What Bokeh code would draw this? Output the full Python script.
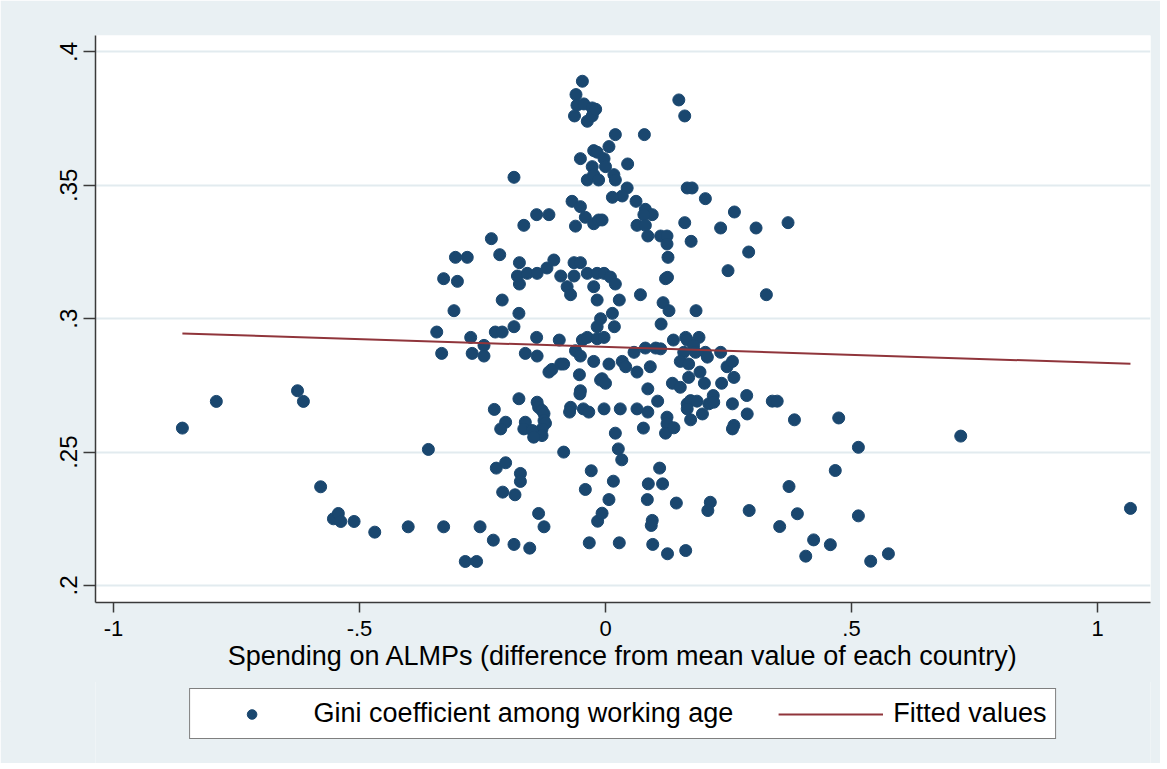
from bokeh.plotting import figure
from bokeh.layouts import column
from bokeh.models import FixedTicker, Range1d, Legend, LegendItem
from bokeh.embed import file_html
from bokeh.resources import INLINE

# ---- data ----
gini_x = [
    -0.860, -0.791, -0.626, -0.614, -0.579, -0.553, -0.543, -0.538, -0.511, -0.469,
    -0.401, -0.360, -0.343, -0.333, -0.329, -0.308, -0.329, -0.301, -0.305, -0.281,
    -0.232, -0.215, -0.274, -0.271, -0.247, -0.247, -0.224, -0.210, -0.210, -0.186,
    -0.176, -0.175, -0.175, -0.179, -0.159, -0.139, -0.119, -0.105, -0.186, -0.166,
    -0.140, -0.115, -0.140, -0.163, -0.139, -0.094, -0.115, -0.109, -0.091, -0.085,
    -0.061, -0.051, -0.047, -0.037, -0.017, -0.017, -0.024, -0.053, -0.010, -0.051,
    -0.091, -0.064, -0.051, -0.064, -0.037, -0.017, -0.078, -0.071, -0.024, -0.017,
    -0.003, 0.010, 0.020, -0.047, -0.060, -0.058, -0.044, -0.027, -0.063, -0.037,
    -0.027, -0.020, -0.051, -0.024, -0.027, -0.037, 0.007, -0.017, 0.045, -0.003,
    0.000, -0.024, -0.014, 0.017, 0.020, 0.020, 0.079, 0.149, 0.161, -0.068,
    -0.051, -0.041, -0.024, -0.061, 0.166, 0.176, 0.203, 0.262, 0.371, 0.044,
    0.034, 0.014, 0.062, 0.081, 0.095, 0.078, -0.014, -0.007, 0.064, 0.081,
    0.161, 0.234, 0.306, 0.086, 0.112, 0.125, 0.125, 0.174, 0.291, 0.127,
    0.249, 0.122, 0.126, 0.327, 0.071, 0.028, 0.117, 0.129, 0.184, 0.014,
    -0.010, 0.018, 0.113, -0.003, 0.138, 0.163, 0.166, 0.190, 0.179, 0.081,
    0.102, 0.112, 0.058, 0.159, 0.183, 0.203, 0.234, 0.207, 0.007, 0.034,
    0.041, 0.091, 0.152, 0.169, 0.247, 0.258, 0.064, 0.192, -0.007, 0.000,
    0.169, 0.261, 0.136, 0.152, 0.201, 0.236, 0.086, -0.176, -0.226, -0.139,
    -0.136, -0.129, -0.125, -0.125, -0.122, -0.129, -0.129, -0.163, -0.166, -0.149,
    -0.146, -0.203, -0.213, -0.071, -0.073, -0.052, -0.045, -0.034, -0.085, -0.222,
    -0.203, -0.173, -0.173, -0.209, -0.184, -0.029, -0.041, -0.136, -0.125, -0.255,
    -0.228, -0.186, -0.154, -0.285, -0.262, -0.033, -0.016, -0.007, -0.003, 0.030,
    0.064, 0.086, 0.106, 0.125, 0.125, 0.122, 0.139, 0.077, 0.020, 0.166,
    0.173, 0.186, 0.166, 0.173, 0.197, 0.210, 0.219, 0.220, 0.258, 0.287,
    0.288, 0.261, 0.258, 0.339, 0.349, 0.384, 0.026, 0.033, 0.016, 0.007,
    0.028, 0.110, 0.087, 0.116, 0.085, 0.095, 0.093, 0.144, 0.213, 0.208,
    0.292, 0.096, 0.126, 0.163, 0.354, 0.373, 0.474, 0.514, 0.722, 0.467,
    0.390, 0.514, 0.423, 0.457, 0.407, 0.539, 0.575, 1.067,
]
gini_y = [
    0.259, 0.269, 0.273, 0.269, 0.237, 0.225, 0.227, 0.224, 0.224, 0.220,
    0.222, 0.251, 0.295, 0.287, 0.222, 0.303, 0.315, 0.314, 0.323, 0.323,
    0.330, 0.324, 0.293, 0.287, 0.290, 0.286, 0.295, 0.295, 0.307, 0.297,
    0.302, 0.313, 0.321, 0.316, 0.317, 0.317, 0.319, 0.322, 0.353, 0.335,
    0.339, 0.339, 0.293, 0.287, 0.286, 0.292, 0.280, 0.281, 0.283, 0.283,
    0.288, 0.286, 0.292, 0.293, 0.297, 0.2925, 0.284, 0.279, 0.277, 0.273,
    0.316, 0.321, 0.321, 0.316, 0.317, 0.317, 0.312, 0.309, 0.312, 0.307,
    0.317, 0.3156, 0.313, 0.389, 0.384, 0.380, 0.3805, 0.379, 0.376, 0.374,
    0.376, 0.3785, 0.360, 0.363, 0.357, 0.352, 0.3645, 0.3624, 0.358, 0.360,
    0.357, 0.354, 0.352, 0.354, 0.352, 0.369, 0.369, 0.382, 0.376, 0.344,
    0.342, 0.338, 0.3356, 0.3347, 0.349, 0.349, 0.345, 0.340, 0.336, 0.349,
    0.346, 0.3455, 0.344, 0.341, 0.339, 0.339, 0.337, 0.337, 0.335, 0.335,
    0.336, 0.334, 0.334, 0.331, 0.331, 0.331, 0.328, 0.329, 0.325, 0.323,
    0.318, 0.315, 0.3155, 0.309, 0.309, 0.307, 0.306, 0.303, 0.303, 0.302,
    0.300, 0.297, 0.298, 0.293, 0.292, 0.293, 0.292, 0.293, 0.290, 0.289,
    0.289, 0.2887, 0.2874, 0.2874, 0.2874, 0.2874, 0.2874, 0.2856, 0.283, 0.284,
    0.282, 0.282, 0.284, 0.283, 0.282, 0.284, 0.280, 0.280, 0.2775, 0.2758,
    0.278, 0.278, 0.2758, 0.2743, 0.2758, 0.2758, 0.2737, 0.270, 0.266, 0.2687,
    0.2668, 0.2656, 0.2644, 0.2618, 0.2608, 0.2587, 0.2562, 0.2612, 0.2587, 0.2581,
    0.2556, 0.2612, 0.2587, 0.2668, 0.265, 0.2718, 0.2662, 0.265, 0.250, 0.244,
    0.246, 0.242, 0.239, 0.235, 0.234, 0.243, 0.236, 0.227, 0.222, 0.222,
    0.217, 0.2154, 0.214, 0.209, 0.209, 0.216, 0.2241, 0.2271, 0.2662, 0.2662,
    0.2662, 0.265, 0.2691, 0.2631, 0.2606, 0.2571, 0.2591, 0.259, 0.2571, 0.2681,
    0.2693, 0.2691, 0.2662, 0.2621, 0.2643, 0.2681, 0.2712, 0.2687, 0.2681, 0.2712,
    0.2643, 0.260, 0.2587, 0.2691, 0.2691, 0.2621, 0.2512, 0.2471, 0.2391, 0.2322,
    0.216, 0.244, 0.2381, 0.2381, 0.2322, 0.2244, 0.2225, 0.2309, 0.2312, 0.2281,
    0.2281, 0.2154, 0.2119, 0.2131, 0.2221, 0.2371, 0.2628, 0.2518, 0.256, 0.2431,
    0.2269, 0.2261, 0.2171, 0.2153, 0.211, 0.2091, 0.2119, 0.2289,
]
assert len(gini_x) == len(gini_y)

fit_x = [-0.860, 1.067]
fit_y = [0.2945, 0.2831]

x_ticks = [-1, -0.5, 0, 0.5, 1]
x_tick_labels = ["-1", "-.5", "0", ".5", "1"]
y_ticks = [0.2, 0.25, 0.3, 0.35, 0.4]
y_tick_labels = [".2", ".25", ".3", ".35", ".4"]
x_title = "Spending on ALMPs (difference from mean value of each country)"
series_names = ["Gini coefficient among working age", "Fitted values"]

# ---- styling ----
BG = "#e9f0f3"
GRID = "#e2ebef"
NAVY = "#1a476f"
MAROON = "#90353b"
FONT = "Liberation Sans"

p = figure(frame_width=1055, frame_height=567, output_backend="svg",
           toolbar_location=None,
           x_range=Range1d(-1.0366, 1.1077), y_range=Range1d(0.19363, 0.40615),
           min_border_left=95, min_border_right=10, min_border_top=35,
           min_border_bottom=80)
p.border_fill_color = BG
p.background_fill_color = "white"
p.outline_line_color = None

pts = p.scatter(gini_x, gini_y, size=12, marker="circle",
                fill_color=NAVY, line_color=NAVY)
fit = p.line(fit_x, fit_y, line_color=MAROON, line_width=2)

p.xaxis.ticker = FixedTicker(ticks=x_ticks)
p.xaxis.major_label_overrides = dict(zip(x_ticks, x_tick_labels))
p.yaxis.ticker = FixedTicker(ticks=y_ticks)
p.yaxis.major_label_overrides = dict(zip(y_ticks, y_tick_labels))

for ax in (p.xaxis[0], p.yaxis[0]):
    ax.axis_line_color = "#3a3a3a"
    ax.axis_line_width = 1.5
    ax.major_tick_line_color = "#3a3a3a"
    ax.major_tick_line_width = 1.5
    ax.major_tick_in = 0
    ax.minor_tick_line_color = None
    ax.major_label_text_font = FONT
    ax.major_label_text_color = "black"

p.xaxis.major_tick_out = 10
p.yaxis.major_tick_out = 12
p.xaxis.major_label_text_font_size = "22px"
p.yaxis.major_label_text_font_size = "24px"
p.yaxis.major_label_orientation = "vertical"
p.xaxis.major_label_standoff = 8
p.yaxis.major_label_standoff = 6

p.xaxis.axis_label = x_title
p.xaxis.axis_label_text_font = FONT
p.xaxis.axis_label_text_font_size = "27px"
p.xaxis.axis_label_text_font_style = "normal"
p.xaxis.axis_label_text_color = "black"
p.xaxis.axis_label_standoff = 2

p.xgrid.visible = False
p.ygrid.ticker = FixedTicker(ticks=y_ticks)
p.ygrid.grid_line_color = GRID
p.ygrid.grid_line_width = 2

# ---- legend strip below the plot ----
# Same series are given to this strip only to provide the legend keys;
# its y range lies above the data, so nothing of them shows in the strip.
lg = figure(width=1160, height=83, output_backend="svg", toolbar_location=None,
            x_axis_type=None, y_axis_type=None,
            x_range=Range1d(-1.0366, 1.1077), y_range=Range1d(1.0, 2.0),
            min_border_left=95, min_border_right=10, min_border_top=0,
            min_border_bottom=0, margin=(-2, 0, 0, 0))
lg.border_fill_color = BG
lg.background_fill_color = BG
lg.outline_line_color = None
lg.xgrid.visible = False
lg.ygrid.visible = False
key_pts = lg.scatter(gini_x, gini_y, size=12, marker="circle",
                     fill_color=NAVY, line_color=NAVY)
key_fit = lg.line(fit_x, fit_y, line_color=MAROON, line_width=2)

legend = Legend(items=[LegendItem(label=series_names[0], renderers=[key_pts]),
                       LegendItem(label=series_names[1], renderers=[key_fit])],
                orientation="horizontal", location="top_center")
legend.label_text_font = FONT
legend.label_text_font_size = "27px"
legend.label_text_color = "black"
legend.border_line_color = "black"
legend.border_line_width = 1
legend.background_fill_color = "white"
legend.background_fill_alpha = 1.0
legend.glyph_width = 105
legend.glyph_height = 24
legend.spacing = 45
legend.padding = 9
legend.label_standoff = 10
legend.margin = 8
lg.add_layout(legend, "center")

layout = column(p, lg, spacing=0)
open("out.html", "w").write(file_html(layout, INLINE))
